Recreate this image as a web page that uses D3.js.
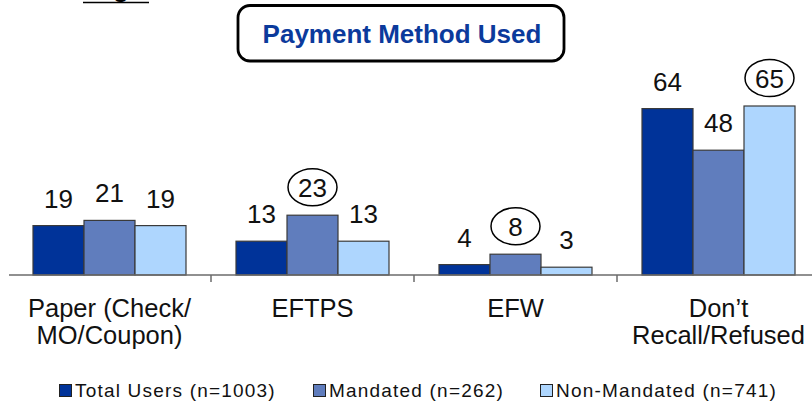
<!DOCTYPE html>
<html>
<head>
<meta charset="utf-8">
<script src="https://cdn.jsdelivr.net/npm/d3@7"></script>
<style>
  html, body { margin: 0; padding: 0; background: #fff; }
  svg { display: block; font-family: "Liberation Sans", Arial, sans-serif; }
</style>
</head>
<body>
<svg id="chart" width="812" height="402"></svg>
<script>
const title = "Payment Method Used";
const categories = [["Paper (Check/", "MO/Coupon)"], ["EFTPS"], ["EFW"], ["Don\u2019t", "Recall/Refused"]];
const seriesNames = ["Total Users (n=1003)", "Mandated (n=262)", "Non-Mandated (n=741)"];
const totalUsers = [19, 13, 4, 64];
const mandated = [21, 23, 8, 48];
const nonMandated = [19, 13, 3, 65];
const circled = [[false, false, false, false], [false, true, true, false], [false, false, false, true]];
const colors = ["#003399", "#607DBD", "#AED6FE"];

const series = [totalUsers, mandated, nonMandated];
const svg = d3.select("#chart");

const catIdx = d3.range(categories.length);
const x0 = d3.scaleBand().domain(catIdx).range([8, 820]).padding(0);
const x1 = d3.scaleBand().domain(d3.range(series.length)).range([25, 178]).padding(0);
const y = d3.scaleLinear().domain([0, 100]).range([275, 15]);

// top-left clipped heading fragment
svg.append("line").attr("x1", 83).attr("x2", 149).attr("y1", 2.5).attr("y2", 2.5)
  .attr("stroke", "#000").attr("stroke-width", 1.6);
svg.append("text").attr("x", 121).attr("y", -3).attr("text-anchor", "middle")
  .attr("font-size", 26).attr("font-weight", "bold").attr("fill", "#000").text("g");

// title box
svg.append("rect").attr("x", 238).attr("y", 5.5).attr("width", 326).attr("height", 55.5)
  .attr("rx", 12).attr("ry", 12).attr("fill", "#fff").attr("stroke", "#000").attr("stroke-width", 2.8);
svg.append("text").attr("x", 402).attr("y", 42.5).attr("text-anchor", "middle")
  .attr("font-size", 26).attr("font-weight", "bold").attr("fill", "#0B3A9C").text(title);

// bars
const groups = svg.selectAll("g.cat").data(catIdx).join("g").attr("class", "cat")
  .attr("transform", d => `translate(${x0(d)},0)`);

groups.selectAll("rect").data(c => series.map((s, i) => ({i, v: s[c], c}))).join("rect")
  .attr("x", d => x1(d.i)).attr("width", x1.bandwidth())
  .attr("y", d => y(d.v)).attr("height", d => y(0) - y(d.v))
  .attr("fill", d => colors[d.i]).attr("stroke", "#3a3a3a").attr("stroke-width", 1.2);

groups.selectAll("text.val").data(c => series.map((s, i) => ({i, v: s[c], c}))).join("text")
  .attr("class", "val")
  .attr("x", d => x1(d.i) + x1.bandwidth() / 2).attr("y", d => y(d.v) - 18)
  .attr("text-anchor", "middle").attr("font-size", 26).attr("fill", "#111").text(d => d.v);

groups.selectAll("ellipse").data(c => series.map((s, i) => ({i, v: s[c], c})).filter(d => circled[d.i][d.c]))
  .join("ellipse")
  .attr("cx", d => x1(d.i) + x1.bandwidth() / 2).attr("cy", d => y(d.v) - 28)
  .attr("rx", 24.5).attr("ry", 18.5).attr("fill", "none").attr("stroke", "#000").attr("stroke-width", 1.5);

// axis
svg.append("line").attr("x1", 9).attr("x2", 812).attr("y1", y(0)).attr("y2", y(0))
  .attr("stroke", "#6b6b6b").attr("stroke-width", 1.5);
svg.selectAll("line.tick").data(catIdx.slice(1)).join("line").attr("class", "tick")
  .attr("x1", d => x0(d)).attr("x2", d => x0(d)).attr("y1", y(0)).attr("y2", y(0) + 7)
  .attr("stroke", "#6b6b6b").attr("stroke-width", 1.5);

// category labels
const catLabels = svg.selectAll("text.cat").data(catIdx).join("text").attr("class", "cat")
  .attr("text-anchor", "middle").attr("font-size", 25.5).attr("fill", "#111");
catLabels.selectAll("tspan").data(d => categories[d].map(t => ({t, d}))).join("tspan")
  .attr("x", d => x0(d.d) + x0.bandwidth() / 2)
  .attr("y", (d, i) => 317 + i * 27)
  .text(d => d.t);

// legend
const legendX = [59, 313, 540];
const leg = svg.selectAll("g.leg").data(seriesNames).join("g").attr("class", "leg")
  .attr("transform", (d, i) => `translate(${legendX[i]},0)`);
leg.append("rect").attr("x", 0.5).attr("y", 384.5).attr("width", 12).attr("height", 12)
  .attr("fill", (d, i) => colors[i]).attr("stroke", "#222").attr("stroke-width", 1);
leg.append("text").attr("x", 16).attr("y", 397).attr("font-size", 19).attr("letter-spacing", 1.2)
  .attr("fill", "#111").text(d => d);
</script>
</body>
</html>
